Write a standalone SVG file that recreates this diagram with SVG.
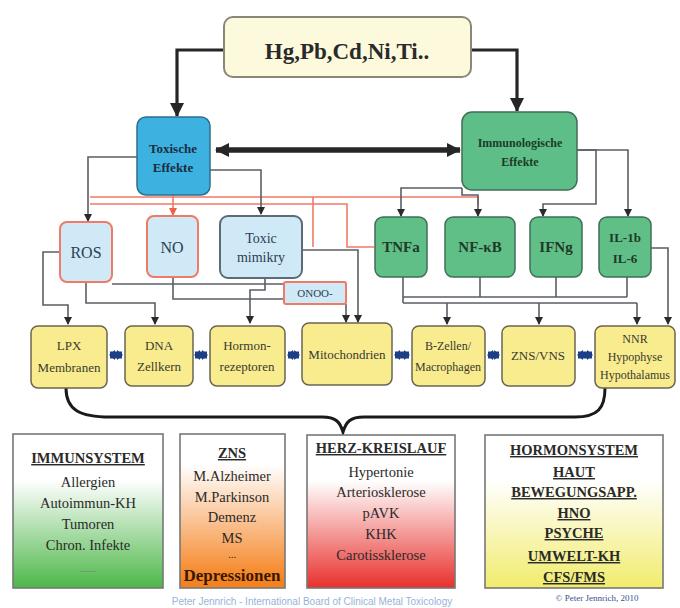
<svg xmlns="http://www.w3.org/2000/svg" width="680" height="608" viewBox="0 0 680 608">
<style>
text{font-family:"Liberation Serif","Times New Roman",serif;text-anchor:middle}
.g{fill:none;stroke:#5a5f66;stroke-width:1.6}
.r{fill:none;stroke:#f07a68;stroke-width:1.6}
.k{fill:none;stroke:#262626;stroke-width:3.2}
.b{fill:none;stroke:#1d3f86;stroke-width:7}
.y rect{fill:#f8ec8e;stroke:#6a6550;stroke-width:1.5}
.y text{font-size:13px;fill:#3a3a30}
.gr rect{fill:#5fbf87;stroke:#3f6f55;stroke-width:1.5}
.gr text{font-size:15px;font-weight:bold;fill:#1f3a28}
.lb rect{fill:#cfe9f6;stroke:#f07a68;stroke-width:2}
.lb text{font-size:16px;fill:#2c3e55}
.bx rect{stroke:#777;stroke-width:1.6}
.bx text{font-size:14.5px;fill:#2a2a2a}
.h{font-weight:bold;text-decoration:underline}
</style>
<defs>
<marker id="ag" markerWidth="8" markerHeight="8" refX="7" refY="4" orient="auto" markerUnits="userSpaceOnUse" viewBox="0 0 8 8">
<path d="M0,0 L8,4 L0,8 Z" fill="#2a2a2a"/>
</marker>
<marker id="ar" markerWidth="8" markerHeight="8" refX="7" refY="4" orient="auto" markerUnits="userSpaceOnUse" viewBox="0 0 8 8">
<path d="M0,0 L8,4 L0,8 Z" fill="#f0604a"/>
</marker>
<marker id="ak" markerWidth="14" markerHeight="14" refX="13" refY="7" orient="auto-start-reverse" markerUnits="userSpaceOnUse" viewBox="0 0 14 14">
<path d="M0,0 L14,7 L0,14 Z" fill="#262626"/>
</marker>
<marker id="ab" markerWidth="6" markerHeight="10" refX="5" refY="5" orient="auto-start-reverse" markerUnits="userSpaceOnUse" viewBox="0 0 6 10">
<path d="M0,0 L6,5 L0,10 Z" fill="#1d3f86"/>
</marker>
<linearGradient id="gG" x1="0" y1="0" x2="0" y2="1"><stop offset="0.3" stop-color="#ffffff"/><stop offset="1" stop-color="#4db748"/></linearGradient>
<linearGradient id="gO" x1="0" y1="0" x2="0" y2="1"><stop offset="0.2" stop-color="#ffffff"/><stop offset="0.95" stop-color="#f58220"/></linearGradient>
<linearGradient id="gR" x1="0" y1="0" x2="0" y2="1"><stop offset="0.3" stop-color="#ffffff"/><stop offset="1" stop-color="#e8302c"/></linearGradient>
<linearGradient id="gY" x1="0" y1="0" x2="0" y2="1"><stop offset="0.3" stop-color="#ffffff"/><stop offset="1" stop-color="#f1ec6c"/></linearGradient>
</defs>

<g id="connectors">
<path class="k" d="M225 50 H177 V116" marker-end="url(#ak)"/>
<path class="k" d="M470 50 H517 V111" marker-end="url(#ak)"/>
<path d="M216 150 H460" fill="none" stroke="#262626" stroke-width="5.5" marker-start="url(#ak)" marker-end="url(#ak)"/>
<path class="r" d="M90 197 H478 V206"/>
<path class="r" d="M90 204 H347 V247 H374"/>
<path class="r" d="M313 197 V247"/>
<path class="r" d="M173 195 V215" marker-end="url(#ar)"/>
<path class="g" d="M137 157 H88 V221" marker-end="url(#ag)"/>
<path class="g" d="M210 170 H261 V214" marker-end="url(#ag)"/>
<path class="g" d="M462 188 H401 V216" marker-end="url(#ag)"/>
<path class="g" d="M462 188 V195 H478 V216" marker-end="url(#ag)"/>
<path class="g" d="M577 150 H596 V204 H543 V216" marker-end="url(#ag)"/>
<path class="g" d="M577 150 H628 V216" marker-end="url(#ag)"/>
<path class="g" d="M60 252 H43 V305 H68 V324" marker-end="url(#ag)"/>
<path class="g" d="M86 282 V303 H155 V324" marker-end="url(#ag)"/>
<path class="g" d="M112 284 H284"/>
<path class="g" d="M173 277 V299 H284"/>
<path class="g" d="M265 278 V290 H250 V323" marker-end="url(#ag)"/>
<path class="g" d="M346 304 V322" marker-end="url(#ag)"/>
<path class="g" d="M302 250 H358 V322" marker-end="url(#ag)"/>
<path class="g" d="M403 277 V303 M480 277 V297 M556 277 V297 M627 277 V297 M403 297 H627 M403 303 H637"/>
<path class="g" d="M447 303 V324" marker-end="url(#ag)"/>
<path class="g" d="M539 303 V324" marker-end="url(#ag)"/>
<path class="g" d="M637 303 V324" marker-end="url(#ag)"/>
<path class="g" d="M651 248 H668 V324" marker-end="url(#ag)"/>
<path class="b" d="M110 355 H122" marker-start="url(#ab)" marker-end="url(#ab)"/>
<path class="b" d="M195 355 H207" marker-start="url(#ab)" marker-end="url(#ab)"/>
<path class="b" d="M288 355 H299" marker-start="url(#ab)" marker-end="url(#ab)"/>
<path class="b" d="M395 355 H409" marker-start="url(#ab)" marker-end="url(#ab)"/>
<path class="b" d="M488 355 H499" marker-start="url(#ab)" marker-end="url(#ab)"/>
<path class="b" d="M578 355 H592" marker-start="url(#ab)" marker-end="url(#ab)"/>
<path d="M66 388 C66 410 80 417 110 417 L322 417 C336 417 340 422 343 432 C346 422 350 417 364 417 L575 417 C598 417 605 408 605 388" fill="none" stroke="#1a1a1a" stroke-width="3"/>
</g>

<g id="metals"><rect x="224" y="17" width="247" height="60" rx="9" fill="#fdf9dc" stroke="#8a8778" stroke-width="2"/><text x="347" y="59" font-size="23" font-weight="bold" fill="#2a2a2a">Hg,Pb,Cd,Ni,Ti..</text></g>
<g id="toxische"><rect x="137" y="117" width="73" height="78" rx="9" fill="#3db2e0" stroke="#2d6f8f" stroke-width="1.5"/><text x="173" y="153" font-size="13" font-weight="bold" fill="#1b2c40">Toxische</text><text x="173" y="172" font-size="13" font-weight="bold" fill="#1b2c40">Effekte</text></g>
<g id="immuno"><rect x="462" y="112" width="115" height="78" rx="10" fill="#5dbf87" stroke="#3f6f55" stroke-width="1.5"/><text x="520" y="147" font-size="12" font-weight="bold" fill="#1f3a28">Immunologische</text><text x="520" y="166" font-size="12" font-weight="bold" fill="#1f3a28">Effekte</text></g>

<g id="ros" class="lb"><rect x="60" y="222" width="52" height="60" rx="7"/><text x="86" y="258">ROS</text></g>
<g id="no" class="lb"><rect x="147" y="216" width="51" height="61" rx="7"/><text x="172" y="253">NO</text></g>
<g id="mimikry" class="lb"><rect x="220" y="216" width="82" height="62" rx="8" style="stroke:#5d6b78"/><text x="261" y="243" style="font-size:14px">Toxic</text><text x="261" y="262" style="font-size:14px">mimikry</text></g>
<g id="onoo" class="lb"><rect x="284" y="282" width="62" height="22" rx="2"/><text x="315" y="297" style="font-size:11px">ONOO-</text></g>

<g id="tnfa" class="gr"><rect x="375" y="217" width="52" height="60" rx="8"/><text x="401" y="252">TNFa</text></g>
<g id="nfkb" class="gr"><rect x="445" y="217" width="70" height="60" rx="8"/><text x="480" y="252">NF-κB</text></g>
<g id="ifng" class="gr"><rect x="530" y="217" width="52" height="60" rx="8"/><text x="556" y="252">IFNg</text></g>
<g id="il" class="gr"><rect x="599" y="217" width="52" height="60" rx="8"/><text x="625" y="242" style="font-size:13px">IL-1b</text><text x="625" y="263" style="font-size:13px">IL-6</text></g>

<g id="lpx" class="y"><rect x="31" y="326" width="76" height="62" rx="7"/><text x="69" y="350">LPX</text><text x="69" y="372">Membranen</text></g>
<g id="dna" class="y"><rect x="125" y="326" width="68" height="60" rx="7"/><text x="159" y="350">DNA</text><text x="159" y="371">Zellkern</text></g>
<g id="hormon" class="y"><rect x="210" y="326" width="75" height="60" rx="7"/><text x="247" y="350">Hormon-</text><text x="247" y="371">rezeptoren</text></g>
<g id="mito" class="y"><rect x="302" y="323" width="90" height="62" rx="7"/><text x="347" y="359">Mitochondrien</text></g>
<g id="bzellen" class="y"><rect x="412" y="326" width="73" height="60" rx="7"/><text x="448" y="350" style="font-size:12px">B-Zellen/</text><text x="448" y="371" style="font-size:12px">Macrophagen</text></g>
<g id="zns" class="y"><rect x="502" y="326" width="73" height="60" rx="7"/><text x="538" y="360">ZNS/VNS</text></g>
<g id="nnr" class="y"><rect x="595" y="326" width="80" height="62" rx="7"/><text x="635" y="343" style="font-size:12px">NNR</text><text x="635" y="361" style="font-size:12px">Hypophyse</text><text x="635" y="379" style="font-size:12px">Hypothalamus</text></g>

<g id="immunsystem" class="bx"><rect x="13" y="434" width="150" height="154" fill="url(#gG)"/><text x="88" y="463" class="h">IMMUNSYSTEM</text><text x="88" y="487">Allergien</text><text x="88" y="508">Autoimmun-KH</text><text x="88" y="529">Tumoren</text><text x="88" y="550">Chron. Infekte</text><text x="88" y="572" style="fill:#777;font-size:11px">......</text></g>
<g id="znsbox" class="bx"><rect x="180" y="434" width="105" height="154" fill="url(#gO)"/><text x="232" y="458" class="h">ZNS</text><text x="232" y="481">M.Alzheimer</text><text x="232" y="502">M.Parkinson</text><text x="232" y="522">Demenz</text><text x="232" y="543">MS</text><text x="232" y="558" style="font-size:11px">...</text><text x="232" y="581" style="font-size:17px;font-weight:bold;fill:#3a1800">Depressionen</text></g>
<g id="herz" class="bx"><rect x="307" y="435" width="148" height="153" fill="url(#gR)"/><text x="381" y="453" class="h">HERZ-KREISLAUF</text><text x="381" y="477">Hypertonie</text><text x="381" y="497">Arteriosklerose</text><text x="381" y="518">pAVK</text><text x="381" y="539">KHK</text><text x="381" y="560">Carotissklerose</text></g>
<g id="hormonsystem" class="bx"><rect x="485" y="435" width="178" height="153" fill="url(#gY)"/><text x="574" y="455" class="h">HORMONSYSTEM</text><text x="574" y="477" class="h">HAUT</text><text x="574" y="497" class="h">BEWEGUNGSAPP.</text><text x="574" y="518" class="h">HNO</text><text x="574" y="538" class="h">PSYCHE</text><text x="574" y="561" class="h">UMWELT-KH</text><text x="574" y="582" class="h">CFS/FMS</text></g>

<text x="312" y="605" style="font-family:'Liberation Sans',Arial,sans-serif;font-size:10px;fill:#98b3d8">Peter Jennrich - International Board of Clinical Metal Toxicology</text>
<text x="597" y="601" style="font-size:9px;fill:#3b4f8a">© Peter Jennrich, 2010</text>
</svg>
